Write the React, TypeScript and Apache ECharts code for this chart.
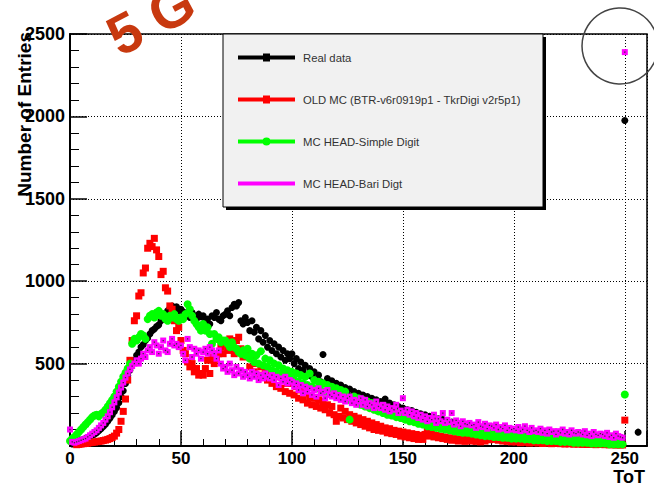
import React, { useEffect, useRef } from "react";
import * as echarts from "echarts";

// ToT bins 0..256 ; values are entries per bin (null = no point)
const realData: (number | null)[] = [
  null, 12, 18, 22, 30, 36, 38, 45, 52, 58,
  66, 72, 80, 92, 105, 118, 132, 150, 168, 188,
  210, 232, 262, 300, 335, 380, 428, 460, 495, 520,
  550, 570, 600, 615, 640, 655, 680, 700, 710, 725,
  735, 760, 790, 800, 820, 835, 850, 830, 845, 820,
  830, 815, 800, 805, 780, 810, 790, 770, 800, 785,
  790, 760, 770, 740, 790, 780, 810, 770, 760, 790,
  800, 820, 790, 840, 860, 850, 870, 760, 740, 780,
  750, 700, 760, 690, 720, 650, 700, 630, 670, 600,
  640, 580, 620, 560, 600, 540, 580, 520, 560, 530,
  560, 500, 530, 470, 510, 460, 490, 430, 470, 420,
  450, 400, 430, 390, 555, 380, 410, 360, 395, 350,
  380, 340, 370, 320, 355, 310, 345, 300, 330, 290,
  320, 280, 310, 270, 300, 260, 290, 250, 280, 240,
  270, 235, 285, 225, 260, 215, 250, 205, 240, 200,
  230, 190, 220, 185, 215, 175, 205, 170, 195, 160,
  190, 150, 180, 145, 170, 140, 165, 130, 160, 125,
  150, 120, 145, 115, 140, 110, 135, 105, 130, 100,
  125, 95, 120, 90, 115, 85, 110, 80, 105, 85,
  100, 75, 95, 70, 90, 75, 85, 65, 90, 60,
  80, 65, 75, 60, 70, 105, 65, 55, 70, 50,
  75, 55, 70, 45, 65, 50, 70, 45, 60, 50,
  65, 40, 60, 45, 55, 40, 60, 35, 55, 40,
  50, 35, 55, 40, 50, 30, 55, 35, 45, 30,
  50, 30, 45, 25, 40, 30, 45, 25, 35, 20,
  1975, null, null, null, null, null, 84,
];

const oldMC: (number | null)[] = [
  null, null, null, 8, 10, 12, 14, 15, 17, 20,
  22, 24, 26, 28, 30, 33, 36, 40, 45, 52,
  60, 78, 100, 150, 210, 285, 400, 520, 640, 760,
  790, 910, 930, 1050, 1080, 1200, 1230, 1210, 1260, 1190,
  1150, 1040, 1060, 960, 940, 850, 830, 760, 700, 720,
  640, 580, 560, 510, 480, 500, 450, 470, 430, 440,
  430, 470, 520, 440, 540, 500, 530, 560, 600, 560,
  620, 580, 650, 600, 560, 640, 660, 590, 540, 560,
  560, 480, 540, 450, 500, 430, 480, 420, 470, 400,
  450, 380, 430, 360, 420, 350, 400, 330, 380, 320,
  380, 310, 360, 290, 340, 280, 320, 260, 300, 250,
  290, 240, 280, 230, 270, 220, 250, 200, 240, 190,
  150, 180, 230, 170, 210, 160, 190, 150, 180, 140,
  170, 130, 160, 120, 150, 110, 140, 100, 130, 95,
  120, 90, 110, 80, 105, 75, 95, 70, 90, 60,
  85, 55, 80, 50, 75, 45, 70, 40, 65, 40,
  70, 90, 60, 80, 55, 65, 50, 60, 45, 55,
  40, 50, 35, 45, 38, 30, 42, 35, 28, 40,
  35, 30, 40, 28, 36, 25, 45, 30, 50, 38,
  55, 40, 60, 35, 45, 30, 40, 28, 35, 25,
  30, 25, 35, 20, 28, 22, 30, 18, 25, 20,
  22, 18, 25, 15, 20, 17, 22, 14, 18, 15,
  18, 14, 16, 12, 15, 13, 16, 11, 14, 12,
  13, 10, 12, 9, 11, 10, 12, 8, 10, 9,
  10, 8, 9, 7, 9, 8, 6, 8, 7, 6,
  157,
];

const simpleDigi: (number | null)[] = [
  30, 45, 55, 70, 85, 100, 115, 130, 145, 160,
  175, 185, 190, 180, 195, 205, 220, 240, 260, 280,
  300, 330, 360, 390, 420, 445, 470, 500, 620, 650,
  640, 660, 680, 670, 650, 770, 790, 800, 780, 810,
  820, 790, 800, 770, 760, 790, 780, 800, 770, 760,
  780, 770, 800, 860, 830, 790, 760, 740, 720, 700,
  740, 700, 720, 680, 620, 680, 650, 660, 630, 640,
  640, 620, 600, 630, 600, 590, 570, 560, 580, 550,
  590, 530, 560, 510, 550, 500, 575, 490, 530, 480,
  520, 460, 500, 450, 490, 430, 470, 440, 460, 420,
  450, 400, 440, 390, 430, 380, 420, 370, 440, 360,
  400, 350, 390, 340, 380, 330, 370, 320, 360, 310,
  350, 300, 340, 290, 330, 280, 160, 270, 300, 260,
  290, 250, 280, 240, 270, 230, 260, 220, 250, 210,
  240, 200, 230, 190, 220, 185, 210, 175, 200, 170,
  190, 160, 180, 150, 175, 145, 165, 135, 155, 130,
  150, 120, 145, 115, 140, 110, 130, 105, 125, 100,
  120, 95, 115, 90, 110, 85, 105, 80, 100, 80,
  95, 75, 90, 70, 85, 65, 85, 60, 80, 60,
  80, 55, 75, 55, 70, 50, 70, 50, 65, 45,
  65, 45, 60, 45, 60, 40, 55, 40, 55, 35,
  55, 35, 50, 35, 50, 30, 50, 30, 45, 30,
  45, 25, 45, 25, 40, 25, 40, 20, 40, 20,
  40, 20, 35, 20, 35, 15, 35, 15, 30, 15,
  30, 15, 30, 10, 25, 10, 25, 10, 20, 10,
  313,
];

const bariDigi: (number | null)[] = [
  100, 25, 20, 25, 30, 35, 40, 45, 55, 65,
  75, 85, 95, 110, 125, 140, 160, 180, 205, 235,
  265, 295, 325, 355, 385, 415, 440, 465, 485, 500,
  520, 500, 530, 560, 540, 580, 600, 570, 630, 610,
  560, 600, 640, 580, 570, 620, 650, 610, 620, 600,
  610, 560, 520, 650, 600, 540, 590, 560, 580, 530,
  570, 590, 560, 600, 580, 560, 530, 580, 500, 470,
  480, 450, 500, 460, 430, 480, 440, 460, 420, 450,
  430, 410, 450, 420, 440, 400, 430, 410, 440, 420,
  410, 430, 400, 420, 370, 410, 390, 420, 380, 400,
  390, 360, 380, 340, 370, 320, 360, 330, 350, 310,
  340, 300, 350, 320, 330, 290, 340, 310, 300, 320,
  290, 310, 280, 300, 270, 290, 300, 260, 280, 250,
  270, 290, 250, 280, 240, 260, 250, 230, 270, 240,
  230, 250, 220, 240, 210, 230, 220, 250, 200, 215,
  290, 200, 220, 190, 210, 180, 200, 170, 190, 160,
  180, 150, 170, 160, 190, 140, 165, 150, 200, 140,
  160, 145, 200, 130, 155, 140, 120, 150, 135, 130,
  140, 125, 130, 110, 145, 120, 115, 135, 105, 125,
  120, 110, 130, 100, 115, 105, 125, 95, 110, 100,
  105, 95, 115, 90, 100, 120, 95, 85, 110, 90,
  95, 85, 105, 80, 95, 75, 100, 85, 90, 70,
  90, 80, 100, 75, 85, 70, 95, 80, 75, 85,
  80, 70, 90, 65, 75, 60, 85, 70, 65, 75,
  70, 60, 80, 55, 65, 50, 75, 60, 55, 50,
  2390,
];

const seriesNames = [
  "Real data",
  "OLD MC (BTR-v6r0919p1 - TkrDigi v2r5p1)",
  "MC HEAD-Simple Digit",
  "MC HEAD-Bari Digt",
];

const xTickLabels = [0, 50, 100, 150, 200, 250];
const yTickLabels = [500, 1000, 1500, 2000, 2500];

const toPairs = (vals: (number | null)[]) =>
  vals
    .map((v, i) => (v == null ? null : [i, v]))
    .filter((p) => p !== null) as number[][];

export default function App() {
  const ref = useRef<HTMLDivElement>(null);

  useEffect(() => {
    if (!ref.current) return;
    const chart = echarts.init(ref.current, undefined, { renderer: "svg" });
    const font = "Liberation Sans";
    const iconSquare = "path://M0 2 H25 V6 H0 Z M32 2 H57 V6 H32 Z M25 0 H32 V8 H25 Z";
    const iconCircle =
      "path://M0 2 H25 V6 H0 Z M32 2 H57 V6 H32 Z M24.5 4 A4 4 0 1 1 32.5 4 A4 4 0 1 1 24.5 4 Z";
    const iconLine = "path://M0 2 H57 V6 H0 Z";

    chart.setOption({
      animation: false,
      backgroundColor: "#ffffff",
      textStyle: { fontFamily: font },
      grid: {
        left: 70,
        top: 34,
        right: 7,
        bottom: 42,
        show: true,
        borderColor: "#000",
        borderWidth: 1.5,
        backgroundColor: "transparent",
      },
      legend: {
        orient: "vertical",
        left: 233,
        top: 47,
        itemWidth: 57,
        itemHeight: 8,
        itemGap: 31,
        selectedMode: false,
        z: 30,
        textStyle: {
          fontSize: 11.3,
          color: "#333",
          fontFamily: font,
          padding: [0, 0, 0, 3],
        },
        data: [
          { name: seriesNames[0], icon: iconSquare },
          { name: seriesNames[1], icon: iconSquare },
          { name: seriesNames[2], icon: iconCircle },
          { name: seriesNames[3], icon: iconLine },
        ],
      },
      xAxis: {
        type: "value",
        min: 0,
        max: 260,
        interval: 50,
        axisLine: { show: true, onZero: false, lineStyle: { color: "#000", width: 2 } },
        axisTick: { show: true, inside: true, length: 15, lineStyle: { color: "#000", width: 1.5 } },
        minorTick: { show: true, splitNumber: 5, length: 7, lineStyle: { color: "#000", width: 1 } },
        splitLine: { show: true, lineStyle: { color: "#000", width: 1, type: [1, 2] } },
        axisLabel: {
          color: "#000",
          fontSize: 17,
          fontWeight: "bold",
          fontFamily: font,
          margin: 4,
          showMaxLabel: false,
          formatter: (v: number) => (xTickLabels.includes(v) ? String(v) : ""),
        },
      },
      yAxis: {
        type: "value",
        min: 0,
        max: 2500,
        interval: 500,
        axisLine: { show: true, onZero: false, lineStyle: { color: "#000", width: 2 } },
        axisTick: { show: true, inside: true, length: 17, lineStyle: { color: "#000", width: 1.5 } },
        minorTick: { show: true, splitNumber: 5, length: 9, lineStyle: { color: "#000", width: 1 } },
        splitLine: { show: true, lineStyle: { color: "#000", width: 1, type: [1, 2] } },
        axisLabel: {
          color: "#000",
          fontSize: 18,
          fontWeight: "bold",
          fontFamily: font,
          margin: 5,
          showMinLabel: false,
          formatter: (v: number) => (yTickLabels.includes(v) ? String(v) : ""),
        },
      },
      series: [
        {
          name: seriesNames[0],
          type: "scatter",
          symbol: "circle",
          symbolSize: 7,
          itemStyle: { color: "#000000", opacity: 1 },
          data: toPairs(realData),
          z: 2,
        },
        {
          name: seriesNames[1],
          type: "scatter",
          symbol: "rect",
          symbolSize: 7,
          itemStyle: { color: "#ff0000", opacity: 1 },
          data: toPairs(oldMC),
          z: 3,
        },
        {
          name: seriesNames[2],
          type: "scatter",
          symbol: "circle",
          symbolSize: 8,
          itemStyle: { color: "#00ff00", opacity: 1 },
          data: toPairs(simpleDigi),
          z: 4,
        },
        {
          name: seriesNames[3],
          type: "scatter",
          symbol: "rect",
          symbolSize: 6,
          itemStyle: { color: "#ff00ff", opacity: 1 },
          data: toPairs(bariDigi),
          z: 5,
        },
        {
          name: "bari-centre",
          type: "scatter",
          symbol: "rect",
          symbolSize: 1.3,
          silent: true,
          itemStyle: { color: "#333", opacity: 1 },
          data: toPairs(bariDigi),
          z: 6,
        },
      ],
      graphic: [
        {
          type: "rect",
          z: 20,
          shape: { x: 226, y: 37, width: 320, height: 173 },
          style: { fill: "#000" },
        },
        {
          type: "rect",
          z: 21,
          shape: { x: 223, y: 34, width: 320, height: 173 },
          style: { fill: "#f1f1f1", stroke: "#000", lineWidth: 1 },
        },
        {
          type: "circle",
          z: 25,
          shape: { cx: 620, cy: 46, r: 38 },
          style: { fill: "none", stroke: "#444", lineWidth: 1.5 },
        },
        {
          type: "text",
          z: 40,
          x: 111,
          y: 40,
          rotation: 0.49,
          style: {
            text: "5 G",
            fill: "#c8390f",
            font: `bold 56px "${font}"`,
            textAlign: "left",
            textVerticalAlign: "middle",
          },
        },
        {
          type: "text",
          z: 40,
          x: 24,
          y: 32,
          rotation: Math.PI / 2,
          style: {
            text: "Number of Entries",
            fill: "#000",
            font: `bold 19px "${font}"`,
            textAlign: "right",
            textVerticalAlign: "middle",
          },
        },
        {
          type: "text",
          z: 40,
          x: 645,
          y: 477,
          style: {
            text: "ToT",
            fill: "#000",
            font: `bold 18px "${font}"`,
            textAlign: "right",
            textVerticalAlign: "middle",
          },
        },
      ],
    });

    return () => chart.dispose();
  }, []);

  return (
    <div
      ref={ref}
      style={{ position: "fixed", left: 0, top: 0, width: 654, height: 488, background: "#fff" }}
    />
  );
}
